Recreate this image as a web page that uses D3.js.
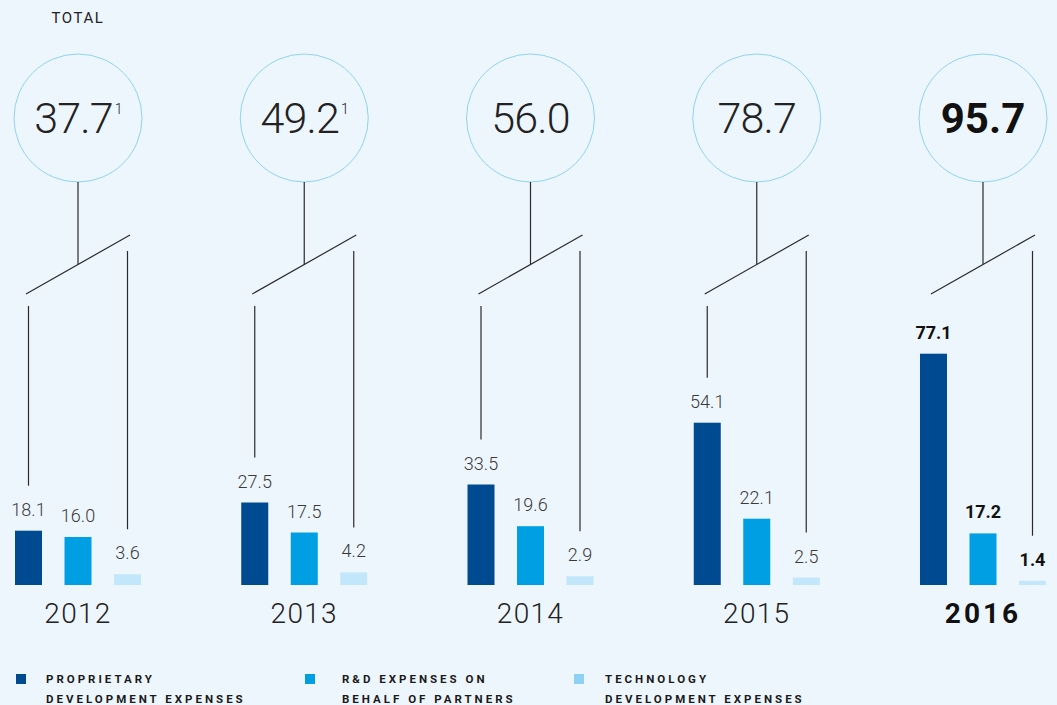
<!DOCTYPE html>
<html>
<head>
<meta charset="utf-8">
<script src="https://cdn.jsdelivr.net/npm/d3@7"></script>
<style>
  html, body { margin: 0; padding: 0; background: #eef6fd; }
  svg { display: block; }
  text { font-family: Roboto, "Noto Sans", sans-serif; }
</style>
</head>
<body>
<svg id="chart" width="1057" height="705"></svg>
<script>
// ---- data ----
const years = ["2012", "2013", "2014", "2015", "2016"];
const totals = ["37.7", "49.2", "56.0", "78.7", "95.7"];
const footnotes = ["1", "1", "", "", ""];
const series = ["PROPRIETARY DEVELOPMENT EXPENSES", "R&D EXPENSES ON BEHALF OF PARTNERS", "TECHNOLOGY DEVELOPMENT EXPENSES"];
const proprietary = [18.1, 27.5, 33.5, 54.1, 77.1];
const partners = [16.0, 17.5, 19.6, 22.1, 17.2];
const technology = [3.6, 4.2, 2.9, 2.5, 1.4];
const legendLines = [["PROPRIETARY", "DEVELOPMENT EXPENSES"], ["R&D EXPENSES ON", "BEHALF OF PARTNERS"], ["TECHNOLOGY", "DEVELOPMENT EXPENSES"]];
const highlightYear = "2016";

const barColors = ["#004a92", "#009fe3", "#c2e6fa"];
const legendColors = ["#004a92", "#009fe3", "#8dd1f3"];
const seriesValues = [proprietary, partners, technology];

const svg = d3.select("#chart");

const xYear = d3.scalePoint().domain(years).range([78, 983]);
const xSeries = d3.scaleBand().domain(d3.range(3)).range([-63, 63]).paddingInner(1 - 27 / 49.5).paddingOuter(0);
const baseline = 585;
const y = d3.scaleLinear().domain([0, 100]).range([baseline, baseline - 300]);

const circleY = 118, r = 64;

// TOTAL label
svg.append("text").attr("x", 78).attr("y", 23).attr("text-anchor", "middle")
  .attr("font-size", 15).attr("letter-spacing", 1.6).attr("fill", "#222").text("TOTAL");

years.forEach((yr, i) => {
  const cx = xYear(yr);
  const bold = yr === highlightYear;
  const g = svg.append("g");

  // circle
  g.append("circle").attr("cx", cx).attr("cy", circleY).attr("r", r)
    .attr("fill", "none").attr("stroke", "#8ed3f2").attr("stroke-width", 1);

  // total number
  const t = g.append("text").attr("x", cx).attr("y", 133).attr("text-anchor", "middle")
    .attr("font-size", bold ? 42 : 43).attr("font-weight", bold ? 700 : 300)
    .attr("letter-spacing", bold ? 0 : -0.8)
    .attr("fill", bold ? "#111" : "#222");
  t.append("tspan").text(totals[i]);
  if (footnotes[i]) {
    t.append("tspan").attr("font-size", 14).attr("dy", -19).attr("dx", 2).text(footnotes[i]);
  }

  // connectors
  const lineColor = "#2a2a2a";
  const xL = cx + xSeries(0) + xSeries.bandwidth() / 2;
  const xR = cx + xSeries(2) + xSeries.bandwidth() / 2;
  const d1 = [cx - 52, 294], d2 = [cx + 52, 235];
  const midY = d1[1] + (d2[1] - d1[1]) * (cx - d1[0]) / (d2[0] - d1[0]);
  g.append("line").attr("x1", cx).attr("x2", cx).attr("y1", circleY + r).attr("y2", midY)
    .attr("stroke", lineColor).attr("stroke-width", 1.2);
  g.append("line").attr("x1", d1[0]).attr("y1", d1[1]).attr("x2", d2[0]).attr("y2", d2[1])
    .attr("stroke", lineColor).attr("stroke-width", 1.2);
  const leftEnd = y(proprietary[i]) - 45;
  if (leftEnd > 316) {
    g.append("line").attr("x1", xL).attr("x2", xL).attr("y1", 306).attr("y2", leftEnd)
      .attr("stroke", lineColor).attr("stroke-width", 1.2);
  }
  const rightEnd = y(technology[i]) - 45;
  g.append("line").attr("x1", xR).attr("x2", xR).attr("y1", 251).attr("y2", rightEnd)
    .attr("stroke", lineColor).attr("stroke-width", 1.2);

  // bars
  seriesValues.forEach((vals, s) => {
    const bx = cx + xSeries(s);
    g.append("rect").attr("x", bx).attr("y", y(vals[i]))
      .attr("width", xSeries.bandwidth()).attr("height", baseline - y(vals[i]))
      .attr("fill", barColors[s]);
    g.append("text").attr("x", bx + xSeries.bandwidth() / 2).attr("y", y(vals[i]) - 15)
      .attr("text-anchor", "middle").attr("font-size", 18)
      .attr("font-weight", bold ? 700 : 300).attr("fill", bold ? "#111" : "#3a3a3a")
      .text(vals[i].toFixed(1));
  });

  // year
  g.append("text").attr("x", cx).attr("y", 623).attr("text-anchor", "middle")
    .attr("font-size", 28).attr("font-weight", bold ? 700 : 300)
    .attr("letter-spacing", bold ? 3 : 1.3)
    .attr("fill", bold ? "#111" : "#222").text(yr);
});

// legend
const legendX = [16, 305, 574];
const legendTextX = [30, 37, 31];
series.forEach((s, k) => {
  const lg = svg.append("g").attr("transform", `translate(${legendX[k]},0)`);
  lg.append("rect").attr("x", 0).attr("y", 674).attr("width", 10).attr("height", 10)
    .attr("fill", legendColors[k]);
  legendLines[k].forEach((ln, j) => {
    lg.append("text").attr("x", legendTextX[k]).attr("y", 683 + j * 20)
      .attr("font-size", 11.5).attr("font-weight", 700).attr("letter-spacing", 3)
      .attr("fill", "#1a1a1a").text(ln);
  });
});
</script>
</body>
</html>
